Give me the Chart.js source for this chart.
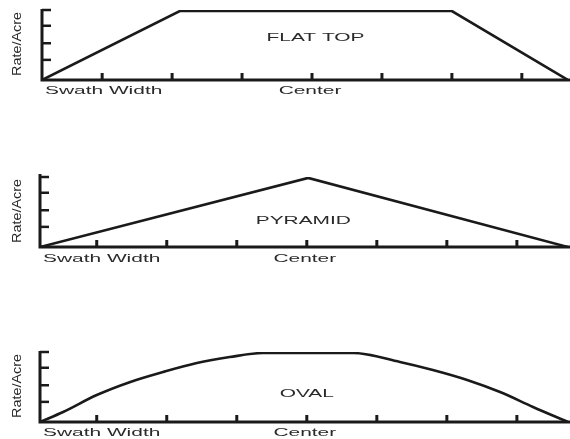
<!DOCTYPE html>
<html>
<head>
<meta charset="utf-8">
<script src="https://cdn.jsdelivr.net/npm/chart.js@4.4.0/dist/chart.umd.min.js"></script>
<style>
  html, body { margin: 0; padding: 0; background: #fff; }
  #wrap { position: relative; width: 570px; height: 439px; overflow: hidden; }
  canvas { position: absolute; left: 0; top: 0; }
</style>
</head>
<body>
<div id="wrap">
  <canvas id="c1" width="570" height="439"></canvas>
  <canvas id="c2" width="570" height="439"></canvas>
  <canvas id="c3" width="570" height="439"></canvas>
</div>
<script>
// ---- data ----
const xTickValues = [-3, -2, -1, 0, 1, 2, 3];
const yTickValues = [1.15, 2.1, 3.1, 4];

const flatTopX = [-3.86, -1.89, 2.0, 3.66];
const flatTopY = [0, 3.94, 3.94, 0];

const pyramidX = [-3.81, 0.02, 3.73];
const pyramidY = [0, 3.95, 0];

const ovalX = [-3.81, -3.48, -3.0, -2.52, -2.05, -1.57, -1.10, -0.63, 0.66, 1.33, 1.80, 2.29, 2.76, 3.23, 3.73];
const ovalY = [0, 0.57, 1.54, 2.29, 2.86, 3.37, 3.71, 3.94, 3.94, 3.43, 2.97, 2.40, 1.71, 0.86, 0];

const panelTitles = ['FLAT TOP', 'PYRAMID', 'OVAL'];
const yAxisTitle = 'Rate/Acre';
const leftLabel = 'Swath Width';
const centerLabel = 'Center';

// ---- panels ----
const panels = [
  { id: 'c1', xs: flatTopX, ys: flatTopY, title: panelTitles[0], smooth: false,
    pad: { left: 42, top: 10, right: 2, bottom: 359 }, xmin: -3.86, xmax: 3.66,
    titleAt: [0.05, 2.4], labelDy: 11, axisExtra: 0 },
  { id: 'c2', xs: pyramidX, ys: pyramidY, title: panelTitles[1], smooth: false,
    pad: { left: 40, top: 177, right: 2, bottom: 192 }, xmin: -3.81, xmax: 3.73,
    titleAt: [-0.05, 1.49], labelDy: 12, axisExtra: 2 },
  { id: 'c3', xs: ovalX, ys: ovalY, title: panelTitles[2], smooth: true,
    pad: { left: 40, top: 352, right: 2, bottom: 17 }, xmin: -3.81, xmax: 3.73,
    titleAt: [0.0, 1.6], labelDy: 11, axisExtra: 0 }
];

const FONT = '11px "Liberation Sans", Arial, sans-serif';
const YFONT = '12px "Liberation Sans", Arial, sans-serif';
const INK = '#1a1a1a';
const TEXT = '#2a2a2a';

function stretchedText(ctx, text, x, y, sx, align) {
  ctx.save();
  ctx.translate(x, y);
  ctx.scale(sx, 1);
  ctx.font = FONT;
  ctx.fillStyle = TEXT;
  ctx.textAlign = align;
  ctx.textBaseline = 'middle';
  ctx.fillText(text, 0, 0);
  ctx.restore();
}

const axesPlugin = {
  id: 'swathAxes',
  afterDatasetsDraw(chart, args, opts) {
    const ctx = chart.ctx;
    const a = chart.chartArea;
    const xs = chart.scales.x, ys = chart.scales.y;
    const p = opts.panel;
    ctx.save();
    ctx.strokeStyle = INK;
    ctx.lineCap = 'butt';
    // axes
    ctx.lineWidth = 3;
    ctx.beginPath();
    ctx.moveTo(a.left, a.top - p.axisExtra - 1);
    ctx.lineTo(a.left, a.bottom);
    ctx.lineTo(a.right + 2, a.bottom);
    ctx.stroke();
    // y ticks (inward)
    ctx.lineWidth = 2.5;
    yTickValues.forEach(v => {
      const py = ys.getPixelForValue(v);
      ctx.beginPath();
      ctx.moveTo(a.left, py);
      ctx.lineTo(a.left + 9, py);
      ctx.stroke();
    });
    // x ticks (inward)
    ctx.lineWidth = 3;
    xTickValues.forEach(v => {
      const px = xs.getPixelForValue(v);
      ctx.beginPath();
      ctx.moveTo(px, a.bottom);
      ctx.lineTo(px, a.bottom - 7);
      ctx.stroke();
    });
    ctx.restore();

    // labels
    const ly = a.bottom + p.labelDy;
    stretchedText(ctx, leftLabel, a.left + 3, ly, 1.9, 'left');
    stretchedText(ctx, centerLabel, xs.getPixelForValue(0) - 2, ly, 1.9, 'center');
    stretchedText(ctx, p.title, xs.getPixelForValue(p.titleAt[0]), ys.getPixelForValue(p.titleAt[1]), 1.9, 'center');

    // rotated y title
    ctx.save();
    ctx.translate(18, (a.top + a.bottom) / 2 - 1);
    ctx.rotate(-Math.PI / 2);
    ctx.scale(1.2, 1);
    ctx.font = YFONT;
    ctx.fillStyle = TEXT;
    ctx.textAlign = 'center';
    ctx.textBaseline = 'middle';
    ctx.fillText(yAxisTitle, 0, 0);
    ctx.restore();
  }
};

panels.forEach(p => {
  const pts = p.xs.map((x, i) => ({ x: x, y: p.ys[i] }));
  new Chart(document.getElementById(p.id), {
    type: 'scatter',
    data: {
      datasets: [{
        data: pts,
        showLine: true,
        borderColor: INK,
        borderWidth: 2.6,
        pointRadius: 0,
        tension: 0,
        cubicInterpolationMode: p.smooth ? 'monotone' : 'default',
        fill: false
      }]
    },
    options: {
      responsive: false,
      animation: false,
      events: [],
      layout: { padding: p.pad },
      plugins: {
        legend: { display: false },
        tooltip: { enabled: false },
        swathAxes: { panel: p }
      },
      scales: {
        x: { type: 'linear', display: false, min: p.xmin, max: p.xmax },
        y: { type: 'linear', display: false, min: 0, max: 4 }
      }
    },
    plugins: [axesPlugin]
  });
});
</script>
</body>
</html>
